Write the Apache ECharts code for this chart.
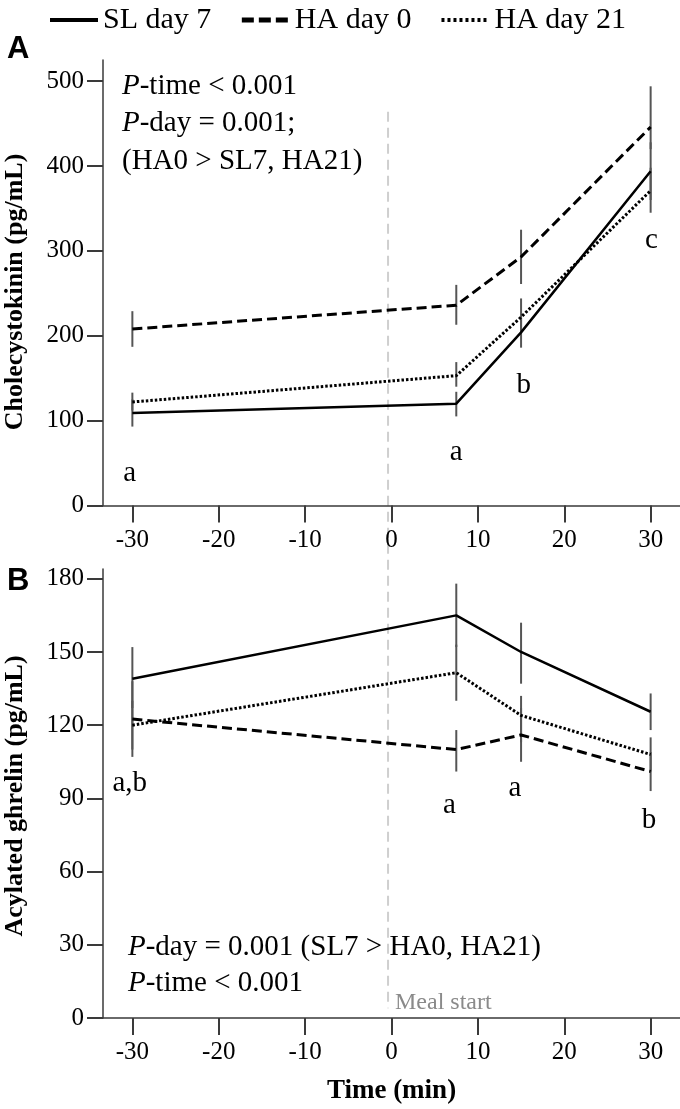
<!DOCTYPE html>
<html>
<head>
<meta charset="utf-8">
<script src="https://cdn.jsdelivr.net/npm/echarts@6/dist/echarts.min.js"></script>
<style>html,body{margin:0;padding:0;background:#fff;}#c{width:680px;height:1109px;}</style>
</head>
<body>
<div id="c"></div>
<script>
// ---- data ----
const times = [-30, 7.5, 15, 30];
const xTicks = [-30, -20, -10, 0, 10, 20, 30];
const cckTicks = [0, 100, 200, 300, 400, 500];
const ghTicks = [0, 30, 60, 90, 120, 150, 180];
const seriesNames = ['SL day 7', 'HA day 0', 'HA day 21'];

// Cholecystokinin (pg/mL)
const cckSL7 = [109, 120, 204, 394];
const cckHA0 = [208, 236, 293, 446];
const cckHA21 = [122, 153, 222, 371];
const cckSL7Err = [[93, 125], [105, 134], [186, 221], [360, 428]];
const cckHA0Err = [[187, 229], [213, 260], [261, 325], [420, 494]];
const cckHA21Err = [[112, 133], [140, 169], [205, 244], [345, 398]];
const cckLetters = [[-30.3, 38, 'a'], [7.5, 63, 'a'], [15.3, 142, 'b'], [30.1, 312, 'c']];

// Acylated ghrelin (pg/mL)
const ghSL7 = [139, 165, 150, 125.5];
const ghHA0 = [122.5, 110, 116, 101];
const ghHA21 = [120, 141.5, 124, 108];
const ghSL7Err = [[127, 152], [152, 178], [137, 162], [118, 133]];
const ghHA0Err = [[107, 138], [101, 118], [105, 127], [93, 109]];
const ghHA21Err = [[110, 130], [130, 153], [113, 132], [101, 115]];
const ghLetters = [[-30.3, 96, 'a,b'], [6.7, 87, 'a'], [14.3, 94, 'a'], [29.8, 81, 'b']];

// ---- styles ----
const SERIF = 'Liberation Serif';
const AXIS_COLOR = '#3a3a3a';
const ERR_COLOR = '#555';
const lineStyles = [
  {color: '#000', width: 2.5, type: 'solid'},
  {color: '#000', width: 3, type: [10, 5]},
  {color: '#000', width: 3, type: [2.5, 2]}
];

function pairs(vals) { return times.map((t, i) => [t, vals[i]]); }
function errData(err) { return times.map((t, i) => [t, err[i][0], err[i][1]]); }

function errSeries(err, gi) {
  return {
    type: 'custom', xAxisIndex: gi, yAxisIndex: gi, silent: true, z: 1,
    data: errData(err),
    renderItem: function (params, api) {
      const a = api.coord([api.value(0), api.value(1)]);
      const b = api.coord([api.value(0), api.value(2)]);
      return {type: 'line', shape: {x1: a[0], y1: a[1], x2: b[0], y2: b[1]},
        style: {stroke: ERR_COLOR, lineWidth: 2}};
    },
    encode: {x: 0, y: [1, 2]}
  };
}
function lineSeries(name, vals, gi, k) {
  return {type: 'line', name: name, xAxisIndex: gi, yAxisIndex: gi, data: pairs(vals),
    symbol: 'none', lineStyle: lineStyles[k], itemStyle: {color: '#000'}, z: 3, silent: true};
}
function letterSeries(arr, gi) {
  return {type: 'custom', xAxisIndex: gi, yAxisIndex: gi, silent: true, z: 4,
    data: arr.map(d => [d[0], d[1], d[2]]),
    encode: {x: 0, y: 1},
    renderItem: function (params, api) {
      const p = api.coord([api.value(0), api.value(1)]);
      const d = arr[params.dataIndex];
      return {type: 'text', x: p[0], y: p[1],
        style: {text: d[2], fontFamily: SERIF, fontSize: 29, fill: '#000', align: 'center', verticalAlign: 'middle'}};
    }};
}

function xAxisCfg(gi, showName) {
  return {
    type: 'value', gridIndex: gi, min: -33.4, max: 33.4,
    axisLine: {show: true, onZero: false, lineStyle: {color: AXIS_COLOR, width: 1.5}},
    axisTick: {show: true, length: 17, inside: false, customValues: xTicks, lineStyle: {color: AXIS_COLOR, width: 2}},
    axisLabel: {customValues: xTicks, margin: 22, color: '#000', fontFamily: SERIF, fontSize: 25},
    splitLine: {show: false},
    name: showName ? 'Time (min)' : '', nameLocation: 'middle', nameGap: 60,
    nameTextStyle: {fontFamily: SERIF, fontWeight: 'bold', fontSize: 27, color: '#000'}
  };
}
function yAxisCfg(gi, max, ticks) {
  return {
    type: 'value', gridIndex: gi, min: 0, max: max,
    axisLine: {show: true, onZero: false, lineStyle: {color: AXIS_COLOR, width: 1.5}},
    axisTick: {show: true, length: 16, customValues: ticks, lineStyle: {color: AXIS_COLOR, width: 2}},
    axisLabel: {customValues: ticks, margin: 19, color: '#000', fontFamily: SERIF, fontSize: 25},
    splitLine: {show: false}
  };
}

const chart = echarts.init(document.getElementById('c'), null, {renderer: 'canvas'});

const staticGraphics = [
  {id: 'lblA', type: 'text', x: 7, y: 49, style: {text: 'A', fontFamily: 'Liberation Sans', fontWeight: 'bold', fontSize: 31, fill: '#000', verticalAlign: 'middle'}},
  {id: 'lblB', type: 'text', x: 7, y: 581, style: {text: 'B', fontFamily: 'Liberation Sans', fontWeight: 'bold', fontSize: 31, fill: '#000', verticalAlign: 'middle'}},
  {id: 'yname1', type: 'text', x: 15, y: 292, rotation: Math.PI / 2,
    style: {text: 'Cholecystokinin (pg/mL)', fontFamily: SERIF, fontWeight: 'bold', fontSize: 26, fill: '#000', align: 'center', verticalAlign: 'middle'}},
  {id: 'yname2', type: 'text', x: 15, y: 796, rotation: Math.PI / 2,
    style: {text: 'Acylated ghrelin (pg/mL)', fontFamily: SERIF, fontWeight: 'bold', fontSize: 26, fill: '#000', align: 'center', verticalAlign: 'middle'}}
];
const pRich = {i: {fontStyle: 'italic', fontFamily: SERIF, fontSize: 29, fill: '#000'}};
function pText(id, x, y, txt) {
  return {id: id, type: 'text', x: x, y: y, z: 10,
    style: {text: txt, rich: pRich, fontFamily: SERIF, fontSize: 29, fill: '#000', verticalAlign: 'middle'}};
}
staticGraphics.push(
  pText('p1', 122, 86, '{i|P}-time < 0.001'),
  pText('p2', 122, 123.5, '{i|P}-day = 0.001;'),
  pText('p3', 122, 161, '(HA0 > SL7, HA21)'),
  pText('p4', 128, 947, '{i|P}-day = 0.001 (SL7 > HA0, HA21)'),
  pText('p5', 128, 983, '{i|P}-time < 0.001'),
  {id: 'meal', type: 'text', x: 395, y: 1003, z: 10,
    style: {text: 'Meal start', fontFamily: SERIF, fontSize: 24, fill: '#8a8a8a', verticalAlign: 'middle'}}
);

const noSym = {color: 'transparent', borderColor: 'transparent', borderWidth: 0};
const option = {
  animation: false,
  backgroundColor: '#fff',
  legend: {
    top: 0, left: 43, itemWidth: 48, itemHeight: 14, itemGap: 28,
    selectedMode: false,
    itemStyle: noSym,
    textStyle: {fontFamily: SERIF, fontSize: 30, color: '#000'},
    data: [
      {name: seriesNames[0], itemStyle: noSym, lineStyle: {width: 4, type: 'solid', color: '#000'}},
      {name: seriesNames[1], itemStyle: noSym, lineStyle: {width: 5, type: [12, 5], color: '#000'}},
      {name: seriesNames[2], itemStyle: noSym, lineStyle: {width: 4, type: [3, 3], color: '#000'}}
    ]
  },
  grid: [
    {left: 103, right: 0, top: 60, height: 445.5},
    {left: 103, right: 0, top: 569, height: 449}
  ],
  xAxis: [xAxisCfg(0, false), xAxisCfg(1, true)],
  yAxis: [yAxisCfg(0, 525, cckTicks), yAxisCfg(1, 184, ghTicks)],
  series: [
    errSeries(cckSL7Err, 0), errSeries(cckHA0Err, 0), errSeries(cckHA21Err, 0),
    lineSeries(seriesNames[0], cckSL7, 0, 0),
    lineSeries(seriesNames[1], cckHA0, 0, 1),
    lineSeries(seriesNames[2], cckHA21, 0, 2),
    letterSeries(cckLetters, 0),
    errSeries(ghSL7Err, 1), errSeries(ghHA0Err, 1), errSeries(ghHA21Err, 1),
    lineSeries(seriesNames[0], ghSL7, 1, 0),
    lineSeries(seriesNames[1], ghHA0, 1, 1),
    lineSeries(seriesNames[2], ghHA21, 1, 2),
    letterSeries(ghLetters, 1)
  ],
  graphic: staticGraphics
};
chart.setOption(option);

// meal-start reference line spanning both panels, placed through the axes
const mealX = -0.4;
const mealTop = chart.convertToPixel({gridIndex: 0}, [mealX, 464]);
const mealBot = chart.convertToPixel({gridIndex: 1}, [mealX, 4]);
chart.setOption({graphic: staticGraphics.concat([{
  id: 'mealLine', type: 'line', z: 0,
  shape: {x1: mealTop[0], y1: mealTop[1], x2: mealBot[0], y2: mealBot[1]},
  style: {stroke: '#cfcfcf', lineWidth: 2, lineDash: [10, 6]}
}])});
</script>
</body>
</html>
